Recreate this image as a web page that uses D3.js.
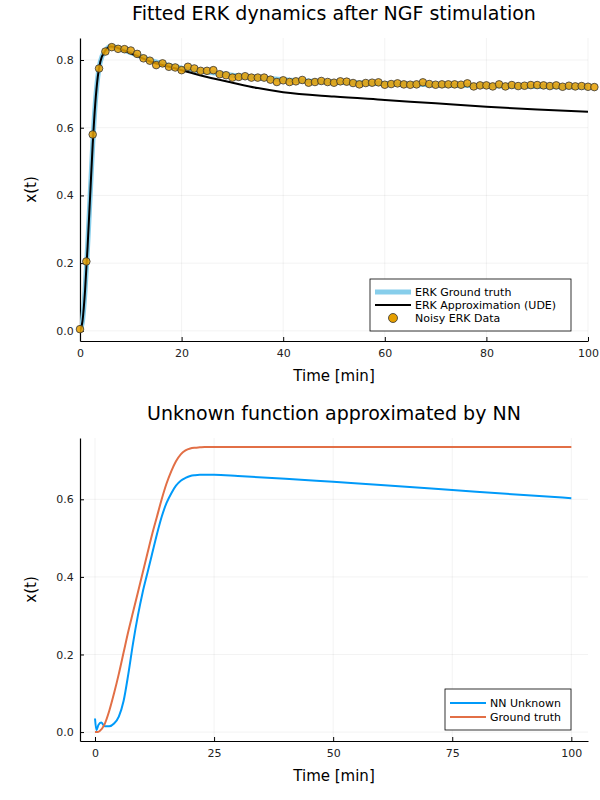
<!DOCTYPE html>
<html><head><meta charset="utf-8">
<script src="https://cdn.jsdelivr.net/npm/d3@7"></script>
<style>body{margin:0;background:#fff}text{font-family:"DejaVu Sans",sans-serif}</style>
</head><body><svg id="c" width="600" height="800"></svg>
<script>
// Top panel data
const truthT = [0,0.5,1,1.5,2,2.5,3,3.5,4,5,6,7,8,10,12,14,16,18,20,25,30,35,40,50,60,70,80,90,100];
const truthV = [0,0.03,0.12,0.25,0.4,0.55,0.67,0.75,0.795,0.828,0.84,0.838,0.832,0.822,0.81,0.798,0.79,0.782,0.776,0.765,0.755,0.748,0.742,0.735,0.73,0.727,0.724,0.722,0.72];
const udeT = [0,0.5,1,1.5,2,2.5,3,3.5,4,5,6,7,8,10,12,14,16,18,20,25,30,35,40,50,60,70,80,90,100];
const udeV = [0,0.03,0.12,0.25,0.4,0.55,0.67,0.75,0.795,0.828,0.84,0.838,0.832,0.82,0.807,0.795,0.786,0.778,0.77,0.75,0.733,0.717,0.705,0.692,0.682,0.672,0.662,0.654,0.647];
const noisy = [0.005,0.205,0.58,0.775,0.825,0.838,0.833,0.832,0.828,0.818,0.805,0.798,0.785,0.79,0.78,0.778,0.77,0.78,0.775,0.768,0.768,0.77,0.758,0.755,0.748,0.75,0.752,0.748,0.748,0.748,0.742,0.735,0.74,0.735,0.737,0.741,0.733,0.735,0.738,0.735,0.733,0.737,0.736,0.732,0.728,0.732,0.733,0.734,0.727,0.729,0.731,0.728,0.727,0.728,0.734,0.729,0.727,0.728,0.728,0.728,0.727,0.731,0.722,0.725,0.725,0.722,0.728,0.722,0.726,0.723,0.724,0.726,0.726,0.725,0.723,0.725,0.721,0.724,0.722,0.723,0.721,0.72];
const noisyDt = 1.25;
// Bottom panel data
const nnT = [0,0.3,0.7,1.3,2,3,4,5,6,7,8,9,10,11,12,13,14,15,16,17,18,19,20,21,22,23,25,30,40,50,60,75,90,100];
const nnV = [0.035,0.005,0.018,0.025,0.015,0.015,0.022,0.04,0.08,0.15,0.23,0.3,0.36,0.41,0.46,0.51,0.555,0.59,0.615,0.635,0.648,0.655,0.66,0.662,0.663,0.663,0.663,0.66,0.653,0.645,0.637,0.624,0.611,0.603];
const gtT = [0,0.5,1,2,3,4,5,6,7,8,9,10,11,12,13,14,15,16,17,18,19,20,21,22,23,25,30,50,75,100];
const gtV = [0,0,0.003,0.02,0.055,0.1,0.15,0.205,0.26,0.31,0.36,0.41,0.46,0.51,0.555,0.6,0.64,0.672,0.698,0.716,0.726,0.731,0.733,0.734,0.735,0.735,0.735,0.735,0.735,0.735];
const topYTicks = [0,0.2,0.4,0.6,0.8], topXTicks=[0,20,40,60,80,100];
const botYTicks = [0,0.2,0.4,0.6], botXTicks=[0,25,50,75,100];

const svg = d3.select("#c");
function panel(o){
  const g = svg.append("g");
  const x = d3.scaleLinear().domain(o.xd).range([80,588]);
  const y = d3.scaleLinear().domain(o.yd).range([o.bot,o.top]);
  o.xt.forEach(t=>g.append("line").attr("x1",x(t)).attr("x2",x(t)).attr("y1",o.top).attr("y2",o.bot).attr("stroke","#000").attr("stroke-opacity",0.1).attr("stroke-width",0.5));
  o.yt.forEach(t=>g.append("line").attr("x1",80).attr("x2",588).attr("y1",y(t)).attr("y2",y(t)).attr("stroke","#000").attr("stroke-opacity",0.1).attr("stroke-width",0.5));
  const xa = g.append("g").attr("transform",`translate(0,${o.bot})`).call(d3.axisBottom(x).tickValues(o.xt).tickFormat(o.xf).tickSize(-4).tickSizeOuter(0));
  const ya = g.append("g").attr("transform",`translate(80,0)`).call(d3.axisLeft(y).tickValues(o.yt).tickFormat(d3.format(".1f")).tickSize(-4).tickSizeOuter(0));
  [xa,ya].forEach(a=>{a.selectAll("text").attr("font-size",11).attr("fill","#222");a.select(".domain").attr("stroke","#000").attr("stroke-width",1.2);});
  xa.selectAll("text").attr("dy","1.2em");ya.selectAll("text").attr("dx","-0.3em");
  g.append("text").attr("x",334).attr("y",o.top-18).attr("text-anchor","middle").attr("font-size",19).text(o.title);
  g.append("text").attr("x",334).attr("y",o.bot+40).attr("text-anchor","middle").attr("font-size",15).text("Time [min]");
  g.append("text").attr("transform",`translate(36,${(o.top+o.bot)/2}) rotate(-90)`).attr("text-anchor","middle").attr("font-size",15).text("x(t)");
  const clip = "clip"+o.bot;
  svg.append("clipPath").attr("id",clip).append("rect").attr("x",80).attr("y",o.top).attr("width",508).attr("height",o.bot-o.top);
  return {g,x,y,clip};
}
const line = (x,y)=>d3.line().x(d=>x(d[0])).y(d=>y(d[1])).curve(d3.curveMonotoneX);

// top
const p1 = panel({xd:[0,100],yd:[-0.03,0.865],top:38,bot:341,xt:topXTicks,yt:topYTicks,xf:d3.format("d"),title:"Fitted ERK dynamics after NGF stimulation"});
const c1 = p1.g.append("g").attr("clip-path",`url(#${p1.clip})`);
c1.append("path").attr("d",line(p1.x,p1.y)(truthT.map((t,i)=>[t,truthV[i]]))).attr("fill","none").attr("stroke","#87ceeb").attr("stroke-width",5);
c1.append("path").attr("d",line(p1.x,p1.y)(udeT.map((t,i)=>[t,udeV[i]]))).attr("fill","none").attr("stroke","#000").attr("stroke-width",2);
p1.g.selectAll("circle.n").data(noisy).join("circle").attr("cx",(d,i)=>p1.x(i*noisyDt)).attr("cy",d=>p1.y(d)).attr("r",3.8).attr("fill","#e69f00").attr("fill-opacity",0.85).attr("stroke","#333").attr("stroke-width",0.8);
// legend top
const l1 = p1.g.append("g");
l1.append("rect").attr("x",370).attr("y",279).attr("width",201).attr("height",52).attr("fill","#fff").attr("stroke","#000").attr("stroke-width",0.8);
l1.append("line").attr("x1",375).attr("x2",411).attr("y1",292).attr("y2",292).attr("stroke","#87ceeb").attr("stroke-width",5);
l1.append("line").attr("x1",375).attr("x2",411).attr("y1",305).attr("y2",305).attr("stroke","#000").attr("stroke-width",2);
l1.append("circle").attr("cx",393).attr("cy",318).attr("r",4.5).attr("fill","#e69f00").attr("stroke","#333").attr("stroke-width",0.8);
["ERK Ground truth","ERK Approximation (UDE)","Noisy ERK Data"].forEach((s,i)=>l1.append("text").attr("x",415).attr("y",296+i*13).attr("font-size",11).text(s));

// bottom
const p2 = panel({xd:[-3.15,103.5],yd:[-0.023,0.758],top:438,bot:741,xt:botXTicks,yt:botYTicks,xf:d3.format("d"),title:"Unknown function approximated by NN"});
p2.g.append("path").attr("d",line(p2.x,p2.y)(nnT.map((t,i)=>[t,nnV[i]]))).attr("fill","none").attr("stroke","#009af9").attr("stroke-width",2);
p2.g.append("path").attr("d",line(p2.x,p2.y)(gtT.map((t,i)=>[t,gtV[i]]))).attr("fill","none").attr("stroke","#e26f46").attr("stroke-width",2);
const l2 = p2.g.append("g");
l2.append("rect").attr("x",445).attr("y",689).attr("width",126).attr("height",41).attr("fill","#fff").attr("stroke","#000").attr("stroke-width",0.8);
[["NN Unknown","#009af9"],["Ground truth","#e26f46"]].forEach((s,i)=>{
  l2.append("line").attr("x1",450).attr("x2",486).attr("y1",703+i*14).attr("y2",703+i*14).attr("stroke",s[1]).attr("stroke-width",2);
  l2.append("text").attr("x",490).attr("y",707+i*14).attr("font-size",11).text(s[0]);
});
</script></body></html>
